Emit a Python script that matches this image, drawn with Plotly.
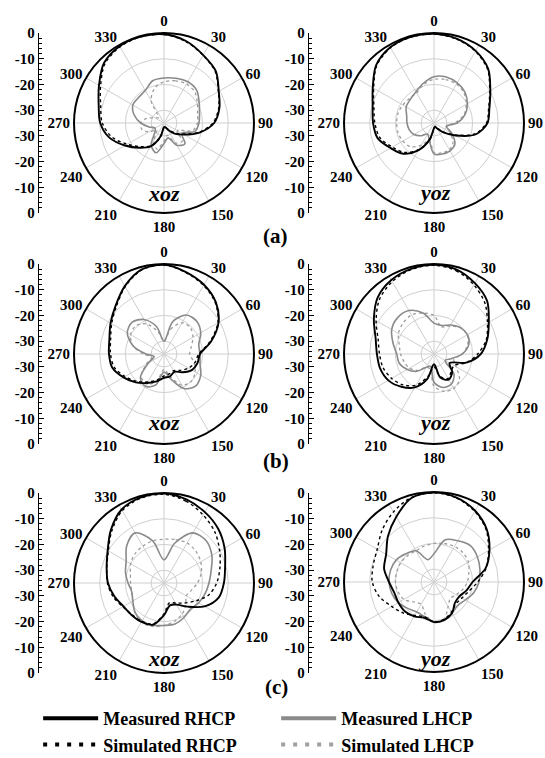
import plotly.graph_objects as go

W, H = 545, 758
R_PX = 90  # polar radius in pixels

ANGLES = list(range(0, 360, 15))
ANGLE_TICKS = list(range(0, 360, 30))
DB_TICK_POS = [35, 25, 15, 5, -5, -15, -25, -35]
DB_TICK_TEXT = ["0", "-10", "-20", "-30", "-30", "-20", "-10", "0"]
SERIES_NAMES = ["Measured RHCP", "Simulated RHCP", "Measured LHCP", "Simulated LHCP"]
PANEL_LABELS = ["(a)", "(b)", "(c)"]

# ---- (a) ----
A_XOZ_MEAS_RHCP = [-0.5, -2, -4.5, -6.5, -10.4, -12.7, -15.5, -20.7, -26, -29.2, -32, -33.3,
                   -33.4, -29.5, -24.5, -21.4, -17.5, -13, -10.2, -8.7, -5.8, -2, -0.5, -0.2]
A_XOZ_SIM_RHCP = [-0.6, -2.2, -4.6, -6.8, -10.6, -13, -16, -21, -26.5, -29.8, -32.5, -33.5,
                  -33.2, -29, -24.8, -22, -18.5, -14, -11, -9.5, -6.5, -2.5, -0.8, -0.3]
A_XOZ_MEAS_LHCP = [-17.5, -17, -16.5, -17, -19.2, -20.7, -21.4, -22.5, -27, -23.5, -25, -29,
                   -27, -23, -25, -30, -31, -29, -26, -23, -21, -21, -20.4, -18]
A_XOZ_SIM_LHCP = [-19, -18, -17.5, -18, -20, -21.5, -22, -23.5, -29, -25, -26, -30,
                  -28, -24.5, -27, -31, -28, -26, -26, -28, -31, -32, -25, -21]

A_YOZ_MEAS_RHCP = [-0.3, -1, -2.6, -5.2, -9.7, -12.7, -14.2, -18.1, -25.3, -29.8, -32.5, -33.5,
                   -33, -28.3, -22.7, -18.1, -15.5, -12.3, -11.3, -10.3, -7.5, -3.2, -1, -0.3]
A_YOZ_SIM_RHCP = [-0.4, -1.2, -2.8, -5.5, -10, -13, -14.6, -18.6, -25.8, -30.2, -32.8, -33.6,
                  -32.8, -28, -23, -18.8, -16.3, -13.2, -12, -10.8, -7.9, -3.5, -1.2, -0.4]
A_YOZ_MEAS_LHCP = [-17, -16.5, -17, -18, -20, -22.5, -26, -30, -27, -23.5, -22.5, -22.5,
                   -23, -28, -30, -28, -26, -25, -24.5, -24, -22.5, -22, -21, -19]
A_YOZ_SIM_LHCP = [-18, -17.5, -17.5, -18.5, -20.5, -23, -27, -30, -28, -24.5, -23, -23,
                  -23.5, -28, -25, -22, -21, -20.5, -20.5, -20.5, -21, -21.5, -21.5, -19.5]

# ---- (b) ----
B_XOZ_MEAS_RHCP = [-0.3, -2, -3.9, -6.5, -10.5, -16, -21, -21.5, -22.5, -25, -27, -26,
                   -25.7, -24, -22, -19.4, -16.8, -14.2, -13.6, -13, -11, -8.4, -4.5, -1]
B_XOZ_SIM_RHCP = [-0.4, -2.2, -4.2, -6.8, -10.8, -16.5, -21.5, -22.5, -24, -26, -27.5, -27,
                  -26.5, -24.5, -22.5, -20, -17.5, -15, -14.2, -13.5, -11.5, -8.8, -4.8, -1.2]
B_XOZ_MEAS_LHCP = [-30, -22, -17.5, -17, -18.5, -21, -21, -20.5, -18.5, -17.5, -19.5, -25,
                   -28, -22.5, -20.5, -22, -28, -31, -28, -22.5, -18.5, -17.5, -19.5, -24]
B_XOZ_SIM_LHCP = [-30, -25, -21, -20.5, -22, -24, -25, -23, -21, -20, -21, -26,
                  -29, -24, -21.5, -22.5, -27, -30, -27, -22.5, -20, -19.5, -21.5, -26]

B_YOZ_MEAS_RHCP = [-0.3, -1, -3.2, -5.8, -10.4, -13.6, -16.8, -22, -28, -25, -23.5, -25.5,
                   -31, -25, -20, -17, -14.5, -13.3, -12.8, -11.5, -8, -4, -1.8, -0.7]
B_YOZ_SIM_RHCP = [-0.5, -1.5, -4, -7, -11, -14, -18, -22, -26, -25.5, -24, -26,
                  -30, -26, -21, -18, -16, -14.5, -13.8, -12.5, -9, -5, -2.5, -1]
B_YOZ_MEAS_LHCP = [-23, -23.5, -22, -20.5, -20, -21, -24, -28, -30, -24, -21.5, -21.5,
                   -24, -30, -29, -25.5, -23, -21, -20.5, -18.5, -16, -15, -15.5, -18.5]
B_YOZ_SIM_LHCP = [-20, -24, -22.5, -20.5, -20, -21.5, -24, -27, -25, -21, -19.5, -20,
                  -22.5, -29, -29, -26, -24, -23, -22, -21, -19, -18, -17.5, -18.5]

# ---- (c) ----
C_XOZ_MEAS_RHCP = [-0.2, -1.3, -3.2, -5.2, -7.8, -10.4, -11.7, -13, -16.8, -22, -25.3, -26,
                   -22.5, -18.2, -17.5, -17.3, -16.8, -15, -13.2, -11.9, -9.7, -5.8, -2, -0.5]
C_XOZ_SIM_RHCP = [-0.5, -2, -4.5, -7, -10, -12.5, -14.5, -17, -21, -24, -26, -27,
                  -23, -18.5, -17.8, -17.5, -16.5, -14.5, -13, -12, -10, -6.3, -2.5, -0.8]
C_XOZ_MEAS_LHCP = [-26, -19, -12.5, -11.8, -13.5, -16, -17.5, -18.5, -19.5, -20.5, -19.5, -18.5,
                   -18.5, -18, -18, -19, -21, -22, -21, -19.5, -18, -14.5, -12.5, -18]
C_XOZ_SIM_LHCP = [-18, -17.5, -17, -17.5, -18.5, -20, -22, -24, -25, -23, -21, -19.5,
                  -18.5, -17.5, -17.5, -19, -21, -22, -22, -21.5, -20, -19, -18.5, -18]

C_YOZ_MEAS_RHCP = [-0.2, -1, -3, -6, -10.1, -14.2, -20, -22, -23.7, -23.5, -21, -19.7,
                   -19.4, -20.6, -19.6, -18.9, -19, -19, -17.5, -14.9, -13.5, -9.7, -5.7, -1.2]
C_YOZ_SIM_RHCP = [-0.3, -1.2, -3.3, -6.3, -10.5, -14, -18, -21, -22.5, -23, -21.5, -20,
                  -19.5, -21, -20, -18, -16, -13, -11, -10.5, -9.5, -6.5, -3.5, -1]
C_YOZ_MEAS_LHCP = [-24, -18, -16.5, -15, -15.5, -16.5, -17.5, -19, -21, -22, -21, -19.5,
                   -19.5, -21, -21.5, -20.5, -19, -18, -17.5, -17.5, -18, -19.5, -21, -26]
C_YOZ_SIM_LHCP = [-20, -19.5, -19, -19, -19.5, -21, -22, -23.5, -25, -26, -24, -20,
                  -19.5, -22, -25, -24, -21.5, -20.5, -20, -20, -20, -20.5, -21, -20.5]

PANELS = [
    dict(cx=164, cy=123, plane="xoz", text_y=193,
         series=[A_XOZ_MEAS_RHCP, A_XOZ_SIM_RHCP, A_XOZ_MEAS_LHCP, A_XOZ_SIM_LHCP]),
    dict(cx=434, cy=123, plane="yoz", text_y=192,
         series=[A_YOZ_MEAS_RHCP, A_YOZ_SIM_RHCP, A_YOZ_MEAS_LHCP, A_YOZ_SIM_LHCP]),
    dict(cx=164, cy=354, plane="xoz", text_y=423,
         series=[B_XOZ_MEAS_RHCP, B_XOZ_SIM_RHCP, B_XOZ_MEAS_LHCP, B_XOZ_SIM_LHCP]),
    dict(cx=434, cy=354, plane="yoz", text_y=423,
         series=[B_YOZ_MEAS_RHCP, B_YOZ_SIM_RHCP, B_YOZ_MEAS_LHCP, B_YOZ_SIM_LHCP]),
    dict(cx=164, cy=583, plane="xoz", text_y=658,
         series=[C_XOZ_MEAS_RHCP, C_XOZ_SIM_RHCP, C_XOZ_MEAS_LHCP, C_XOZ_SIM_LHCP]),
    dict(cx=434, cy=582, plane="yoz", text_y=658,
         series=[C_YOZ_MEAS_RHCP, C_YOZ_SIM_RHCP, C_YOZ_MEAS_LHCP, C_YOZ_SIM_LHCP]),
]
AXIS_X = [39, 309]          # x position of the vertical dB scales
LABEL_POS = [(275, 236), (276, 461), (276, 687)]

SERIF = "Liberation Serif"
TICKFONT = dict(family=SERIF, size=15, color="black", weight="bold")

STYLES = {
    "Measured RHCP": dict(color="black", width=1.9, dash="solid"),
    "Simulated RHCP": dict(color="black", width=1.4, dash="dot"),
    "Measured LHCP": dict(color="#8a8a8a", width=1.6, dash="solid"),
    "Simulated LHCP": dict(color="#9e9e9e", width=1.3, dash="dot"),
}
DRAW_ORDER = [3, 2, 1, 0]  # gray curves beneath black ones

fig = go.Figure()
layout = dict(width=W, height=H,
              margin=dict(l=0, r=0, t=0, b=0, autoexpand=False),
              paper_bgcolor="white", plot_bgcolor="white", showlegend=True)
annotations = []

closed_theta = ANGLES + [ANGLES[0] + 360]

for i, p in enumerate(PANELS):
    key = "polar" if i == 0 else f"polar{i + 1}"
    cx, cy = p["cx"], p["cy"]
    layout[key] = dict(
        domain=dict(x=[(cx - R_PX) / W, (cx + R_PX) / W],
                    y=[(H - cy - R_PX) / H, (H - cy + R_PX) / H]),
        bgcolor="white",
        angularaxis=dict(direction="clockwise", rotation=90, tickmode="array",
                         tickvals=ANGLE_TICKS, ticktext=[str(a) for a in ANGLE_TICKS],
                         showline=True, linecolor="black", linewidth=2,
                         showgrid=True, gridcolor="#cfcfcf", gridwidth=0.8,
                         ticks="", tickfont=TICKFONT),
        radialaxis=dict(range=[-35, 0], tickmode="array", tickvals=[-30, -20, -10],
                        showticklabels=False, ticks="", showline=False,
                        showgrid=True, gridcolor="#cfcfcf", gridwidth=0.8),
    )
    for j in DRAW_ORDER:
        name = SERIES_NAMES[j]
        vals = p["series"][j]
        fig.add_trace(go.Scatterpolar(
            r=vals + [vals[0]], theta=closed_theta, mode="lines",
            line=dict(shape="spline", smoothing=0.9, **STYLES[name]),
            name=name, subplot=key, showlegend=False, hoverinfo="skip"))
    annotations.append(dict(
        x=cx / W, y=(H - p["text_y"]) / H, xref="paper", yref="paper",
        xanchor="center", yanchor="middle",
        text=p["plane"], showarrow=False,
        font=dict(family=SERIF, size=22, color="black", weight="bold", style="italic")))

# vertical dB scales (0 at rim, -35 at centre, mirrored below)
k = 0
for row in range(3):
    cy = PANELS[2 * row]["cy"]
    for col in range(2):
        k += 1
        xa = "xaxis" if k == 1 else f"xaxis{k}"
        ya = "yaxis" if k == 1 else f"yaxis{k}"
        xid = "x" if k == 1 else f"x{k}"
        yid = "y" if k == 1 else f"y{k}"
        ax_x = AXIS_X[col] / W
        layout[xa] = dict(domain=[ax_x, ax_x + 0.004], visible=False, range=[0, 1])
        layout[ya] = dict(
            domain=[(H - cy - R_PX) / H, (H - cy + R_PX) / H], anchor=xid,
            range=[-35, 35], tickmode="array", tickvals=DB_TICK_POS, ticktext=DB_TICK_TEXT,
            ticks="inside", ticklen=5, tickwidth=1.3, tickcolor="black",
            showline=True, linecolor="black", linewidth=1.3,
            showgrid=False, zeroline=False, tickfont=TICKFONT, automargin=False,
            minor=dict(tickmode="linear", tick0=35, dtick=2, ticks="inside",
                       ticklen=2.5, tickwidth=1, tickcolor="black"))
        fig.add_trace(go.Scatter(x=[None], y=[None], xaxis=xid, yaxis=yid,
                                 showlegend=False, hoverinfo="skip"))

for lbl, (lx, ly) in zip(PANEL_LABELS, LABEL_POS):
    annotations.append(dict(x=lx / W, y=(H - ly) / H, xref="paper", yref="paper",
                            xanchor="center", yanchor="middle",
                            text=lbl, showarrow=False,
                            font=dict(family=SERIF, size=21, color="black", weight="bold")))

# legend entries
LEGEND_STYLES = {
    "Measured RHCP": dict(color="black", width=4, dash="solid"),
    "Measured LHCP": dict(color="#8a8a8a", width=4, dash="solid"),
    "Simulated RHCP": dict(color="black", width=4, dash="4px,8px"),
    "Simulated LHCP": dict(color="#a0a0a0", width=4, dash="4px,8px"),
}
for name in ["Measured RHCP", "Measured LHCP", "Simulated RHCP", "Simulated LHCP"]:
    fig.add_trace(go.Scatterpolar(r=[None], theta=[None], mode="lines",
                                  line=LEGEND_STYLES[name], name=name, subplot="polar",
                                  showlegend=True, hoverinfo="skip"))

layout["legend"] = dict(orientation="h", x=0.07, xanchor="left", y=(H - 700) / H,
                        yanchor="top", entrywidth=168, entrywidthmode="pixels",
                        itemwidth=55, tracegroupgap=0, bgcolor="rgba(0,0,0,0)",
                        font=dict(family=SERIF, size=18, color="black", weight="bold"))
layout["annotations"] = annotations
fig.update_layout(**layout)

fig.write_html("out.html")
